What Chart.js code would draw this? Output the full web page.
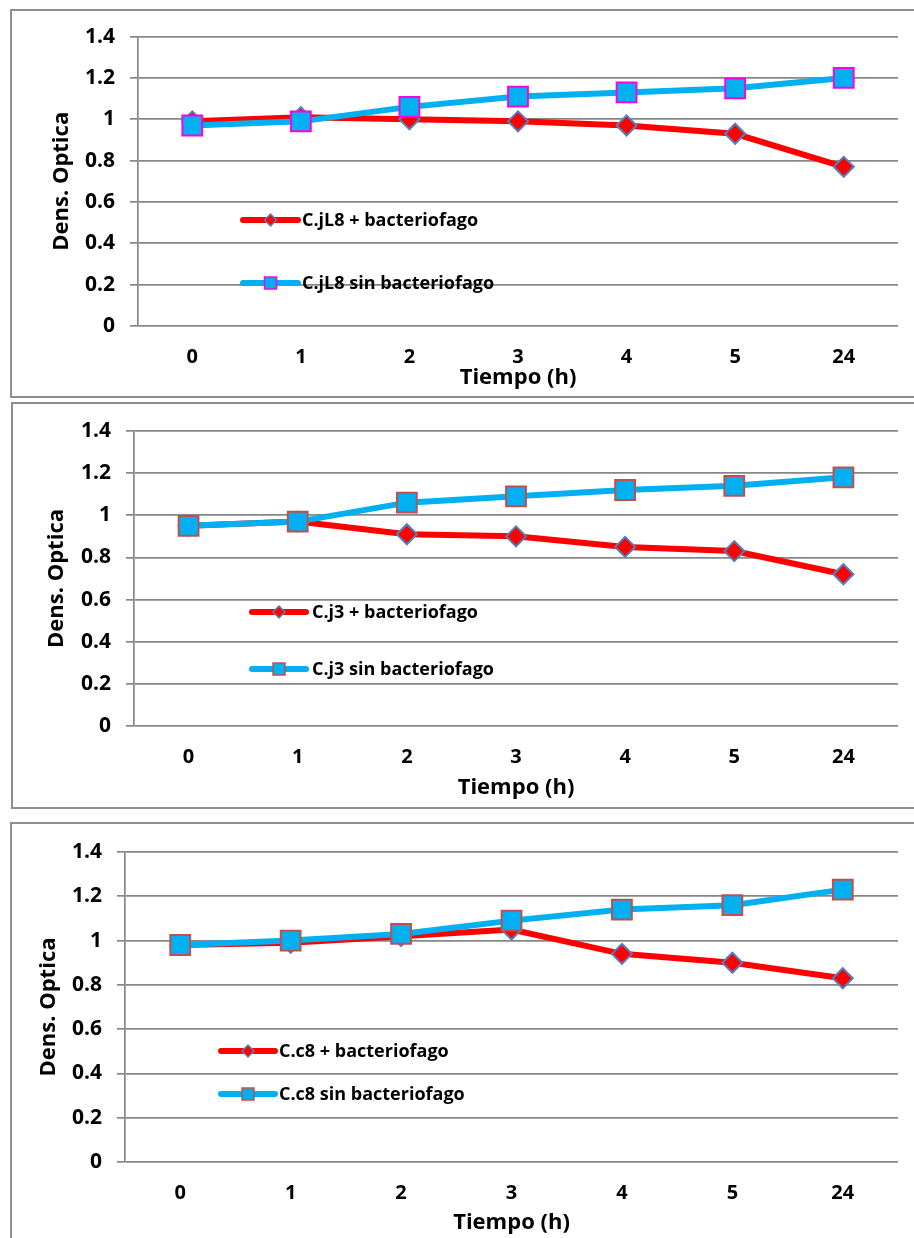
<!DOCTYPE html>
<html>
<head>
<meta charset="utf-8">
<script src="https://cdn.jsdelivr.net/npm/chart.js@4/dist/chart.umd.min.js"></script>
<style>
  html, body { margin: 0; padding: 0; background: #fff; }
  body { width: 914px; height: 1238px; position: relative; overflow: hidden; }
  .box { position: absolute; border: 2px solid #8e8e8e; box-sizing: border-box; }
  canvas { position: absolute; left: 0; }
</style>
</head>
<body>
<div class="box" style="left:10px; top:9px; width:920px; height:389px;"></div>
<div class="box" style="left:11px; top:402px; width:920px; height:407px;"></div>
<div class="box" style="left:10px; top:822px; width:920px; height:430px;"></div>
<canvas id="c1" width="914" height="388" style="top:9px"></canvas>
<canvas id="c2" width="914" height="405" style="top:403px"></canvas>
<canvas id="c3" width="914" height="416" style="top:822px"></canvas>
<script>
// time points (hours)
const times = ['0', '1', '2', '3', '4', '5', '24'];

// optical density, C.jL8
const cjL8Fago = [0.99, 1.01, 1.00, 0.99, 0.97, 0.93, 0.77];
const cjL8Sin = [0.97, 0.99, 1.06, 1.11, 1.13, 1.15, 1.20];
// optical density, C.j3
const cj3Fago = [0.95, 0.97, 0.91, 0.90, 0.85, 0.83, 0.72];
const cj3Sin = [0.95, 0.97, 1.06, 1.09, 1.12, 1.14, 1.18];
// optical density, C.c8
const cc8Fago = [0.98, 0.99, 1.02, 1.05, 0.94, 0.90, 0.83];
const cc8Sin = [0.98, 1.00, 1.03, 1.09, 1.14, 1.16, 1.23];

const yMin = 0;
const yMax = 1.4;
const yStep = 0.2;

Chart.defaults.font.family = "'Open Sans', sans-serif";
Chart.defaults.color = '#000';

// legend drawn inside the plot, line sample + marker + bold label
const inlineLegend = {
  id: 'inlineLegend',
  afterDatasetsDraw(chart, _, opts) {
    const { ctx } = chart;
    ctx.save();
    chart.data.datasets.forEach((ds, i) => {
      const y = opts.rows[i];
      ctx.lineCap = 'round';
      ctx.lineWidth = 6;
      ctx.strokeStyle = ds.borderColor;
      ctx.beginPath();
      ctx.moveTo(opts.x0, y);
      ctx.lineTo(opts.x1, y);
      ctx.stroke();
      const mx = (opts.x0 + opts.x1) / 2;
      ctx.fillStyle = ds.pointBackgroundColor;
      ctx.strokeStyle = ds.pointBorderColor;
      ctx.lineWidth = 1.5;
      ctx.beginPath();
      if (ds.pointStyle === 'rectRot') {
        ctx.moveTo(mx - 6, y);
        ctx.lineTo(mx, y - 6);
        ctx.lineTo(mx + 6, y);
        ctx.lineTo(mx, y + 6);
        ctx.closePath();
      } else {
        ctx.rect(mx - 6, y - 6, 12, 12);
      }
      ctx.fill();
      ctx.stroke();
      ctx.fillStyle = '#000';
      ctx.font = "bold 18px 'Open Sans', sans-serif";
      ctx.textBaseline = 'middle';
      ctx.textAlign = 'left';
      ctx.fillText(ds.label, opts.textX, y + 1);
    });
    ctx.restore();
  },
};

function makeChart(id, fago, sin, names, squareEdge, frame) {
  return new Chart(document.getElementById(id), {
    type: 'line',
    data: {
      labels: times,
      datasets: [
        {
          label: names[0],
          data: fago,
          order: 1,
          borderColor: '#ff0000',
          borderWidth: 6,
          tension: 0,
          pointStyle: 'rectRot',
          pointRadius: 10,
          pointBackgroundColor: '#ff0000',
          pointBorderColor: '#4f81bd',
          pointBorderWidth: 2,
        },
        {
          label: names[1],
          data: sin,
          order: 0,
          borderColor: '#00b0f0',
          borderWidth: 6,
          tension: 0,
          pointStyle: 'rect',
          pointRadius: 14,
          pointBackgroundColor: '#00b0f0',
          pointBorderColor: squareEdge,
          pointBorderWidth: 2,
        },
      ],
    },
    plugins: [inlineLegend],
    options: {
      responsive: false,
      animation: false,
      devicePixelRatio: 1,
      layout: {
        padding: { left: 0, top: frame.padTop, right: frame.padRight, bottom: 0 },
      },
      plugins: {
        legend: { display: false },
        tooltip: { enabled: false },
        inlineLegend: frame.legend,
      },
      scales: {
        x: {
          offset: true,
          afterFit: (s) => { s.height = frame.xHeight; },
          grid: { display: false, drawTicks: false },
          border: { display: false },
          ticks: {
            padding: 19,
            autoSkip: false,
            maxRotation: 0,
            font: { size: 20, weight: 'bold' },
          },
          title: {
            display: true,
            text: 'Tiempo (h)',
            font: { size: 22, weight: 'bold' },
            padding: { top: 0, bottom: frame.xTitlePad },
          },
        },
        y: {
          min: yMin,
          max: yMax,
          afterFit: (s) => { s.width = frame.yWidth; },
          grid: { color: '#878787', lineWidth: 1.7, tickLength: 8 },
          border: { display: true, color: '#878787', width: 1.7 },
          ticks: {
            stepSize: yStep,
            padding: 15,
            font: { size: 21, weight: 'bold' },
            callback: (v) => String(Math.round(v * 10) / 10),
          },
          title: {
            display: true,
            text: 'Dens. Optica',
            font: { size: 22, weight: 'bold' },
            padding: { top: frame.yTitlePad, bottom: 0 },
          },
        },
      },
    },
  });
}

makeChart('c1', cjL8Fago, cjL8Sin, ['C.jL8 + bacteriofago', 'C.jL8 sin bacteriofago'], '#ff00e0', {
  padTop: 27, padRight: 15, xHeight: 71, xTitlePad: 6, yWidth: 138, yTitlePad: 49,
  legend: { x0: 243, x1: 298, textX: 302, rows: [211, 274] },
});
makeChart('c2', cj3Fago, cj3Sin, ['C.j3 + bacteriofago', 'C.j3 sin bacteriofago'], '#c0504d', {
  padTop: 28, padRight: 13, xHeight: 82, xTitlePad: 7, yWidth: 134, yTitlePad: 44,
  legend: { x0: 252, x1: 306, textX: 312, rows: [209, 266] },
});
makeChart('c3', cc8Fago, cc8Sin, ['C.c8 + bacteriofago', 'C.c8 sin bacteriofago'], '#c0504d', {
  padTop: 30, padRight: 16, xHeight: 76, xTitlePad: 2, yWidth: 125, yTitlePad: 36,
  legend: { x0: 221, x1: 275, textX: 279, rows: [229, 272] },
});
</script>
</body>
</html>
